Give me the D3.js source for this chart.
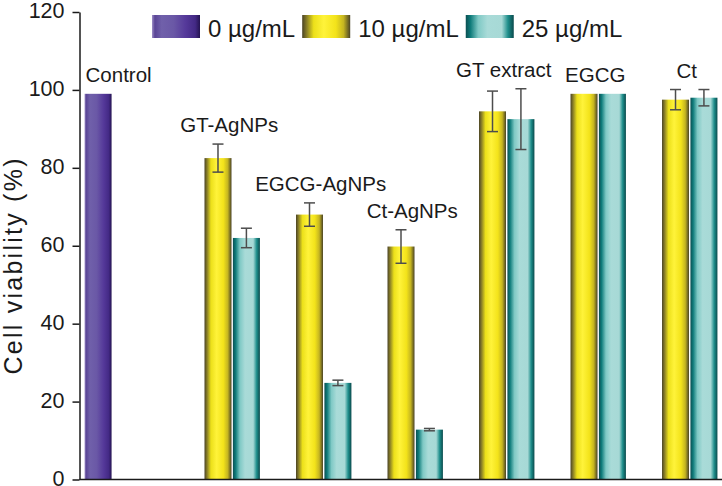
<!DOCTYPE html>
<html>
<head>
<meta charset="utf-8">
<script src="https://cdn.jsdelivr.net/npm/d3@7"></script>
<style>
  html, body { margin: 0; padding: 0; background: #fff; }
  svg { display: block; font-family: "Liberation Sans", Arial, Helvetica, sans-serif; }
</style>
</head>
<body>
<svg id="chart" width="722" height="486"></svg>
<script>
// ---- data ----
const categories = ["Control", "GT-AgNPs", "EGCG-AgNPs", "Ct-AgNPs", "GT extract", "EGCG", "Ct"];
const seriesNames = ["0 µg/mL", "10 µg/mL", "25 µg/mL"];
const values0  = [99,   null, null, null, null, null, null];
const values10 = [null, 82.5, 68,   59.8, 94.5, 99,   97.5];
const values25 = [null, 62,   24.8, 12.8, 92.5, 99,   98];
const errors0  = [0,    null, null, null, null, null, null];
const errors10 = [null, 3.6,  3.0,  4.3,  5.2,  0,    2.6];
const errors25 = [null, 2.5,  0.7,  0.3,  7.8,  0,    2.1];
const yTicks = [0, 20, 40, 60, 80, 100, 120];
const yLabel = "Cell viability (%)";

// ---- layout ----
const W = 722, H = 486;
const margin = { left: 79.5, right: 0, top: 12, bottom: 6.5 };
const svg = d3.select("#chart");

const seriesValues = [values0, values10, values25];
const seriesErrors = [errors0, errors10, errors25];

const x0 = d3.scaleBand().domain(categories).range([80, 722]).paddingInner(0.084).paddingOuter(0.05);
const x1 = d3.scaleBand().domain(seriesNames).range([0, x0.bandwidth()]).paddingInner(0.05);
const y = d3.scaleLinear().domain([0, 120]).range([H - margin.bottom, margin.top]);

// ---- gradients ----
const defs = svg.append("defs");
const gradStops = [
  [ // purple
    [0, "#9e8fc6"], [0.06, "#5a4596"], [0.2, "#7060aa"], [0.45, "#6a58a6"],
    [0.7, "#55399a"], [0.9, "#432985"], [1, "#241350"]
  ],
  [ // yellow
    [0, "#4a4325"], [0.1, "#8d8227"], [0.24, "#ece01a"], [0.45, "#fff33a"],
    [0.7, "#f3e31a"], [0.86, "#c5b521"], [1, "#4a4325"]
  ],
  [ // teal
    [0, "#0b4f52"], [0.1, "#0f7c7b"], [0.26, "#7fc9c5"], [0.45, "#a9dbd8"],
    [0.75, "#a7d9d6"], [0.88, "#1e8e8b"], [1, "#0a4a4c"]
  ]
];
gradStops.forEach((stops, i) => {
  const g = defs.append("linearGradient").attr("id", "grad" + i)
    .attr("x1", "0%").attr("x2", "100%").attr("y1", "0%").attr("y2", "0%");
  stops.forEach(s => g.append("stop").attr("offset", s[0]).attr("stop-color", s[1]));
});

// ---- bars ----
const barData = [];
categories.forEach((c, ci) => {
  seriesNames.forEach((s, si) => {
    const v = seriesValues[si][ci];
    if (v !== null && v !== undefined) {
      barData.push({ cat: c, ser: s, si, v, e: seriesErrors[si][ci] });
    }
  });
});

const barsG = svg.append("g");
barsG.selectAll("rect").data(barData).join("rect")
  .attr("x", d => x0(d.cat) + x1(d.ser))
  .attr("y", d => y(d.v))
  .attr("width", x1.bandwidth())
  .attr("height", d => y(0) - y(d.v))
  .attr("fill", d => `url(#grad${d.si})`);

// error bars
const errG = svg.append("g").attr("stroke", "#4d4d4d").attr("stroke-width", 1.5).attr("fill", "none");
barData.filter(d => d.e && d.e > 0).forEach(d => {
  const cx = x0(d.cat) + x1(d.ser) + x1.bandwidth() / 2;
  const yt = y(d.v + d.e), yb = y(d.v - d.e);
  const cap = 5.5;
  errG.append("line").attr("x1", cx).attr("x2", cx).attr("y1", yt).attr("y2", yb);
  errG.append("line").attr("x1", cx - cap).attr("x2", cx + cap).attr("y1", yt).attr("y2", yt);
  errG.append("line").attr("x1", cx - cap).attr("x2", cx + cap).attr("y1", yb).attr("y2", yb);
});

// ---- category labels ----
const labG = svg.append("g").attr("font-size", "20.5px").attr("fill", "#1a1a1a");
categories.forEach((c, ci) => {
  const bars = barData.filter(d => d.cat === c);
  const top = d3.max(bars, d => d.v + (d.e || 0));
  const xs = bars.map(d => x0(d.cat) + x1(d.ser));
  const left = d3.min(xs), right = d3.max(xs) + x1.bandwidth();
  const t = labG.append("text").attr("y", y(top) - 12).text(c);
  if (bars.length === 1) {
    t.attr("x", left + 1).attr("text-anchor", "start");
  } else {
    t.attr("x", (left + right) / 2 - 3).attr("text-anchor", "middle");
  }
});

// ---- axes ----
const yAxis = d3.axisLeft(y).tickValues(yTicks).tickSize(7).tickPadding(8).tickSizeOuter(0);
const yg = svg.append("g").attr("transform", `translate(${margin.left},0)`).call(yAxis);
yg.select(".domain").attr("stroke", "#1a1a1a").attr("stroke-width", 1.5);
yg.selectAll(".tick line").attr("stroke", "#1a1a1a").attr("stroke-width", 1.5);
yg.selectAll(".tick text").attr("font-size", "21.5px").attr("fill", "#1a1a1a")
  .attr("dy", "0.27em")
  .attr("font-family", "'Liberation Sans', Arial, sans-serif");

svg.append("line")
  .attr("x1", margin.left).attr("x2", W)
  .attr("y1", y(0)).attr("y2", y(0))
  .attr("stroke", "#1a1a1a").attr("stroke-width", 1.5);

svg.append("text")
  .attr("transform", `translate(22,${(158 + 375) / 2}) rotate(-90)`)
  .attr("text-anchor", "middle")
  .attr("font-size", "25px")
  .attr("fill", "#1a1a1a")
  .attr("textLength", 216)
  .text(yLabel);

// ---- legend ----
const legG = svg.append("g");
let lx = 152;
seriesNames.forEach((s, i) => {
  legG.append("rect").attr("x", lx).attr("y", 15).attr("width", 48).attr("height", 23)
    .attr("fill", `url(#grad${i})`);
  const t = legG.append("text").attr("x", lx + 56).attr("y", 37)
    .attr("font-size", "24px").attr("fill", "#1a1a1a").text(s);
  lx = lx + 56 + t.node().getComputedTextLength() + 7;
});
</script>
</body>
</html>
